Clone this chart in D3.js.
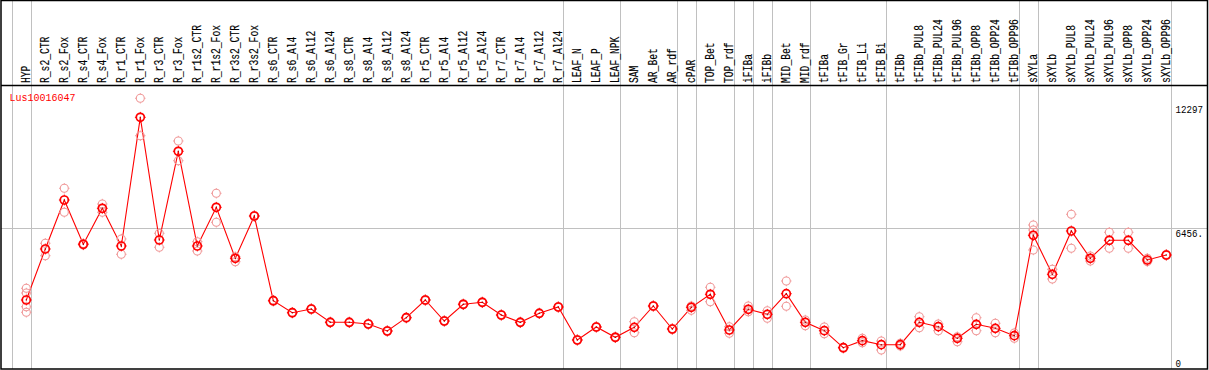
<!DOCTYPE html>
<html><head><meta charset="utf-8">
<script src="https://cdn.jsdelivr.net/npm/d3@7"></script>
<style>html,body{margin:0;padding:0;background:#fff;}svg{display:block;}</style>
</head><body>
<svg id="chart" width="1209" height="370"></svg>
<script>
const title = "Lus10016047";
const categories = ["HYP","R_s2_CTR","R_s2_Fox","R_s4_CTR","R_s4_Fox","R_r1_CTR","R_r1_Fox","R_r3_CTR","R_r3_Fox","R_r1s2_CTR","R_r1s2_Fox","R_r3s2_CTR","R_r3s2_Fox","R_s6_CTR","R_s6_Al4","R_s6_Al12","R_s6_Al24","R_s8_CTR","R_s8_Al4","R_s8_Al12","R_s8_Al24","R_r5_CTR","R_r5_Al4","R_r5_Al12","R_r5_Al24","R_r7_CTR","R_r7_Al4","R_r7_Al12","R_r7_Al24","LEAF_N","LEAF_P","LEAF_NPK","SAM","AR_Bet","AR_rdf","cPAR","TOP_Bet","TOP_rdf","iFIBa","iFIBb","MID_Bet","MID_rdf","tFIBa","tFIB_Gr","tFIB_Li","tFIB_Bi","tFIBb","tFIBb_PUL8","tFIBb_PUL24","tFIBb_PUL96","tFIBb_OPP8","tFIBb_OPP24","tFIBb_OPP96","sXYLa","sXYLb","sXYLb_PUL8","sXYLb_PUL24","sXYLb_PUL96","sXYLb_OPP8","sXYLb_OPP24","sXYLb_OPP96"];
const meanValues = [3087,5484,7786,5705,7396,5625,11672,5907,10075,5625,7443,5047,7034,3054,2490,2664,2039,2039,1960,1631,2256,3087,2100,2885,2979,2382,2039,2462,2758,1208,1819,1335,1804,2805,1725,2744,3355,1678,2650,2415,3383,2039,1645,846,1175,987,987,2039,1833,1288,1945,1757,1410,6128,4295,6330,5047,5893,5893,4967,5202];
const replicateValues = [[3637,3416,2772,2509],[5752,5169],[8336,7208],[5740,5670],[7598,7208],[5954,5235],[12565,10808],[6221,5564],[10559,9633],[5827,5390],[8101,6738],[5122,4887],[7060,7010],[3080,3030],[2510,2470],[2690,2640],[2060,2020],[2060,2020],[1980,1940],[1650,1610],[2280,2230],[3110,3060],[2120,2080],[2910,2860],[3000,2960],[2400,2360],[2060,2020],[2480,2440],[2780,2740],[1230,1190],[1840,1800],[1360,1310],[2068,1551],[2830,2780],[1750,1700],[2805,2600],[3684,3007],[1833,1522],[2805,2537],[2584,2227],[3980,2791],[2147,1880],[1819,1504],[870,820],[1288,1081],[1161,738],[1053,926],[2303,1786],[1960,1645],[1363,1128],[2256,1645],[1992,1551],[1537,1288],[6611,6377,5437],[4530,4074],[7114,5517],[5155,4920],[6268,5517],[6268,5517],[5050,4890],[5230,5180]];
// index of last category in each group (-1 = left edge line)
const groupEnds = [-1,0,28,31,34,35,37,38,39,41,45,52,53,60];
const tickValues = [12297, 6456, 0];
const tickLabels = ["12297", "6456.", "0"];
const gridValues = [6456];

const W = 1209, H = 370;
const svg = d3.select("#chart");
const x = d3.scaleLinear().domain([0, categories.length - 1]).range([26.3, 1166.3]);
const y = d3.scaleLinear().domain([0, 12297]).range([365.7, 104]);
const FONT = "'Liberation Mono', 'DejaVu Sans Mono', monospace";

svg.append("rect").attr("x",0).attr("y",0).attr("width",W).attr("height",H).attr("fill","#fff");

// horizontal grid
svg.selectAll("line.grid").data(gridValues).enter().append("line")
  .attr("x1",1).attr("x2",1207).attr("y1",d=>Math.round(y(d))+0.5).attr("y2",d=>Math.round(y(d))+0.5)
  .attr("stroke","#c0c0c0").attr("stroke-width",1);

// group separators
svg.selectAll("line.sep").data(groupEnds).enter().append("line")
  .attr("x1",d=>Math.round(x(d)+4.4)+0.5).attr("x2",d=>Math.round(x(d)+4.4)+0.5)
  .attr("y1",1).attr("y2",369)
  .attr("stroke","#c0c0c0").attr("stroke-width",1);

// header separator line
svg.append("line").attr("x1",1).attr("x2",1207).attr("y1",85.5).attr("y2",85.5)
  .attr("stroke","#000").attr("stroke-width",1.3);

// category labels
svg.selectAll("text.cat").data(categories).enter().append("text")
  .attr("transform",(d,i)=>`translate(${Math.round(x(i)+4)},83) rotate(-90)`)
  .attr("font-family",FONT).attr("font-size","12.5px").attr("fill","#000")
  .attr("stroke","#000").attr("stroke-width",0.15)
  .attr("textLength",d=>d.length*5.8).attr("lengthAdjust","spacingAndGlyphs")
  .text(d=>d);

// title
svg.append("text").attr("x",9.5).attr("y",101).attr("font-family",FONT).attr("font-size","11.5px")
  .attr("fill","#ff0000").attr("textLength",title.length*6).attr("lengthAdjust","spacingAndGlyphs").text(title);

// tick labels
svg.selectAll("text.tick").data(tickValues).enter().append("text")
  .attr("x",1175.5).attr("y",d=>Math.min(y(d)+8.8,366.5))
  .attr("font-family",FONT).attr("font-size","11.5px").attr("fill","#000")
  .attr("textLength",(d,i)=>tickLabels[i].length*5.5).attr("lengthAdjust","spacingAndGlyphs")
  .text((d,i)=>tickLabels[i]);

// mean line
const line = d3.line().x((d,i)=>x(i)).y(d=>y(d));
svg.append("path").datum(meanValues).attr("d",line).attr("fill","none")
  .attr("stroke","#ff0000").attr("stroke-width",1.1);

function marker(g, cx, cy, color, sw, r, tl) {
  g.append("circle").attr("cx",cx).attr("cy",cy).attr("r",r).attr("fill","none")
    .attr("stroke",color).attr("stroke-width",sw);
  [[0,-1],[0,1],[-1,0],[1,0]].forEach(([dx,dy])=>{
    g.append("line").attr("x1",cx+dx*(r)).attr("y1",cy+dy*(r))
      .attr("x2",cx+dx*(r+tl)).attr("y2",cy+dy*(r+tl))
      .attr("stroke",color).attr("stroke-width",1);
  });
}

// replicates
const repG = svg.append("g");
replicateValues.forEach((reps,i)=>{
  reps.forEach(v=>marker(repG, x(i), y(v), "#f09a9a", 1.1, 4, 1.2));
});

// means
const meanG = svg.append("g");
meanValues.forEach((v,i)=>{
  marker(meanG, x(i), y(v), "#ff0000", 1.7, 4, 1.4);
  meanG.append("circle").attr("cx",x(i)).attr("cy",y(v)).attr("r",0.7).attr("fill","#900");
});

// border
svg.append("rect").attr("x",1).attr("y",0.5).attr("width",1206.5).attr("height",368.5)
  .attr("fill","none").attr("stroke","#000").attr("stroke-width",1.5);
</script>
</body></html>
